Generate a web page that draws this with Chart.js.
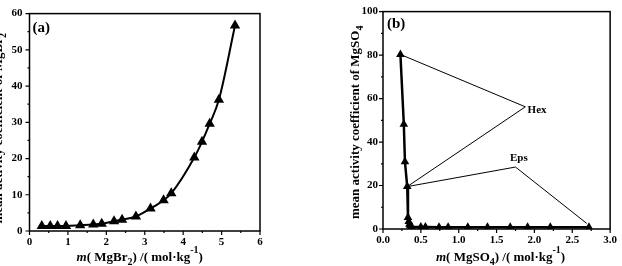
<!DOCTYPE html>
<html>
<head>
<meta charset="utf-8">
<script src="https://cdn.jsdelivr.net/npm/chart.js@4.4.0/dist/chart.umd.min.js"></script>
<style>
    html, body { margin: 0; padding: 0; background: #fff; overflow: hidden; }
    #chartA { position: absolute; left: 0; top: 0; }
    #chartB { position: absolute; left: 320px; top: 0; }
</style>
</head>
<body>
<canvas id="chartA" width="300" height="266"></canvas>
<canvas id="chartB" width="302" height="266"></canvas>
<script>
// (a) MgBr2 mean activity coefficient vs molality
const brMolality = [0.32, 0.54, 0.73, 0.95, 1.32, 1.66, 1.88, 2.2, 2.41, 2.77, 3.15, 3.49, 3.69, 4.29, 4.49, 4.69, 4.93, 5.35];
const brGamma = [1.4, 1.4, 1.4, 1.4, 1.6, 1.8, 2.0, 2.7, 3.1, 4.0, 6.2, 8.5, 10.4, 20.3, 24.6, 29.6, 36.2, 56.7];
const brXTicks = [0, 1, 2, 3, 4, 5, 6];
const brYTicks = [0, 10, 20, 30, 40, 50, 60];

// (b) MgSO4 mean activity coefficient vs molality
const so4Molality = [0.23, 0.275, 0.29, 0.32, 0.33, 0.34, 0.35, 0.36, 0.38, 0.5, 0.56, 0.74, 0.86, 1.12, 1.38, 1.68, 1.91, 2.21, 2.72];
const so4Gamma = [80.3, 48.2, 30.9, 19.5, 5.3, 3.5, 2.2, 1.5, 1.0, 0.9, 0.9, 0.8, 0.8, 0.8, 0.8, 0.8, 0.8, 0.8, 0.8];
const so4XTicks = [0, 0.5, 1.0, 1.5, 2.0, 2.5, 3.0];
const so4YTicks = [0, 20, 40, 60, 80, 100];

// leader lines for the phase labels
const hexGuideX = [0.257, 1.88, 0.32];
const hexGuideY = [79.9, 56.2, 19.5];
const epsGuideX = [0.32, 1.75, 2.69];
const epsGuideY = [19.5, 28.5, 2.6];
const phaseLabels = ["Hex", "Eps"];
const phaseLabelX = [1.91, 1.795];
const phaseLabelY = [54.6, 32.6];

const FONT = '"Liberation Serif", "Times New Roman", serif';

function toPoints(xs, ys) {
    return xs.map((x, i) => ({ x: x, y: ys[i] }));
}

function withMinors(majors) {
    const out = [];
    majors.forEach((v, i) => {
        out.push(v);
        if (i < majors.length - 1) out.push((v + majors[i + 1]) / 2);
    });
    return out;
}

function isMajor(list, v) {
    return list.some((m) => Math.abs(m - v) < 1e-9);
}

// draws a label made of parts (italic / subscript / superscript)
function drawRich(ctx, parts, cx, cy, angle, size) {
    const fontFor = (p) => (p.it ? "italic " : "") + "bold " + (p.sub || p.sup ? size - 3 : size) + "px " + FONT;
    ctx.save();
    ctx.translate(cx, cy);
    ctx.rotate(angle);
    let total = 0;
    parts.forEach((p) => {
        ctx.font = fontFor(p);
        total += ctx.measureText(p.t).width;
    });
    let pos = -total / 2;
    ctx.textBaseline = "alphabetic";
    ctx.textAlign = "left";
    ctx.fillStyle = "#000";
    parts.forEach((p) => {
        ctx.font = fontFor(p);
        const dy = p.sub ? size * 0.32 : p.sup ? -size * 0.6 : 0;
        ctx.fillText(p.t, pos, dy);
        pos += ctx.measureText(p.t).width;
    });
    ctx.restore();
}

const framePlugin = {
    id: "frame",
    afterDraw(chart, args, opts) {
        const { ctx, chartArea: a, scales } = chart;
        const x = scales.x, y = scales.y;
        ctx.save();
        ctx.strokeStyle = "#000";
        ctx.lineWidth = 1.5;
        ctx.strokeRect(a.left, a.top, a.right - a.left, a.bottom - a.top);

        ctx.lineWidth = 1.2;
        ctx.beginPath();
        x.ticks.forEach((t) => {
            const px = x.getPixelForValue(t.value);
            const len = isMajor(opts.xMajor, t.value) ? 4 : 2;
            ctx.moveTo(px, a.bottom);
            ctx.lineTo(px, a.bottom + len);
        });
        y.ticks.forEach((t) => {
            const py = y.getPixelForValue(t.value);
            const len = isMajor(opts.yMajor, t.value) ? 4 : 2;
            ctx.moveTo(a.left, py);
            ctx.lineTo(a.left - len, py);
        });
        ctx.stroke();

        // panel tag
        ctx.fillStyle = "#000";
        ctx.font = "bold 15px " + FONT;
        ctx.textAlign = "left";
        ctx.textBaseline = "middle";
        ctx.fillText(opts.tag, a.left + opts.tagDx, a.top + opts.tagDy);

        // phase labels
        if (opts.labels) {
            ctx.font = "bold 11px " + FONT;
            opts.labels.forEach((lab, i) => {
                ctx.textAlign = i === 0 ? "left" : "center";
                ctx.fillText(lab, x.getPixelForValue(opts.labelX[i]), y.getPixelForValue(opts.labelY[i]));
            });
        }

        // axis titles
        drawRich(ctx, opts.xTitle, (a.left + a.right) / 2 + opts.xTitleDx, opts.xTitleY, 0, 13);
        drawRich(ctx, opts.yTitle, opts.yTitleX, (a.top + a.bottom) / 2 + opts.yTitleDy, -Math.PI / 2, 13);
        ctx.restore();
    },
};

function axes(xMin, xMax, xMajor, xFmt, yMin, yMax, yMajor, yWidth, xHeight, yPad) {
    return {
        x: {
            type: "linear",
            min: xMin,
            max: xMax,
            afterBuildTicks: (s) => { s.ticks = withMinors(xMajor).map((v) => ({ value: v })); },
            afterFit: (s) => { s.height = xHeight; },
            grid: { display: true, drawOnChartArea: false, drawTicks: false },
            border: { display: false },
            ticks: {
                autoSkip: false,
                maxRotation: 0,
                padding: 5,
                color: "#000",
                font: { family: FONT, size: 11, weight: "bold" },
                callback: (v) => (isMajor(xMajor, v) ? xFmt(v) : ""),
            },
        },
        y: {
            type: "linear",
            min: yMin,
            max: yMax,
            afterBuildTicks: (s) => { s.ticks = withMinors(yMajor).map((v) => ({ value: v })); },
            afterFit: (s) => { s.width = yWidth; },
            grid: { display: true, drawOnChartArea: false, drawTicks: false },
            border: { display: false },
            ticks: {
                autoSkip: false,
                padding: yPad,
                color: "#000",
                font: { family: FONT, size: 11, weight: "bold" },
                callback: (v) => (isMajor(yMajor, v) ? String(v) : ""),
            },
        },
    };
}

function initializeBromideChart() {
    new Chart(document.getElementById("chartA"), {
        type: "scatter",
        data: {
            datasets: [
                {
                    data: toPoints(brMolality, brGamma),
                    showLine: true,
                    borderColor: "#000",
                    borderWidth: 2,
                    cubicInterpolationMode: "monotone",
                    pointStyle: "triangle",
                    pointRadius: 6,
                    pointBackgroundColor: "#000",
                    pointBorderColor: "#000",
                    pointBorderWidth: 0,
                },
            ],
        },
        options: {
            responsive: false,
            animation: false,
            layout: { padding: { left: 0, top: 10, right: 40, bottom: 0 } },
            plugins: {
                legend: { display: false },
                tooltip: { enabled: false },
                frame: {
                    xMajor: brXTicks,
                    yMajor: brYTicks,
                    tag: "(a)",
                    tagDx: 3,
                    tagDy: 15,
                    xTitle: [
                        { t: "m", it: true },
                        { t: "( MgBr" },
                        { t: "2", sub: true },
                        { t: ") /( mol·kg" },
                        { t: "-1", sup: true },
                        { t: ")" },
                    ],
                    xTitleDx: -5,
                    xTitleY: 261,
                    yTitle: [{ t: "mean activity coefficient of MgBr" }, { t: "2", sub: true }],
                    yTitleX: 2,
                    yTitleDy: 6,
                },
            },
            scales: axes(0, 6, brXTicks, (v) => String(v), 0, 60, brYTicks, 29.5, 35, 7),
        },
        plugins: [framePlugin],
    });
}

function initializeSulfateChart() {
    new Chart(document.getElementById("chartB"), {
        type: "scatter",
        data: {
            datasets: [
                {
                    data: toPoints(so4Molality, so4Gamma),
                    showLine: true,
                    borderColor: "#000",
                    borderWidth: 2.5,
                    tension: 0,
                    pointStyle: "triangle",
                    pointRadius: 5,
                    pointBackgroundColor: "#000",
                    pointBorderColor: "#000",
                    pointBorderWidth: 0,
                },
                {
                    data: toPoints(hexGuideX, hexGuideY),
                    showLine: true,
                    borderColor: "#000",
                    borderWidth: 1,
                    pointRadius: 0,
                },
                {
                    data: toPoints(epsGuideX, epsGuideY),
                    showLine: true,
                    borderColor: "#000",
                    borderWidth: 1,
                    pointRadius: 0,
                },
            ],
        },
        options: {
            responsive: false,
            animation: false,
            layout: { padding: { left: 0, top: 7, right: 10, bottom: 0 } },
            plugins: {
                legend: { display: false },
                tooltip: { enabled: false },
                frame: {
                    xMajor: so4XTicks,
                    yMajor: so4YTicks,
                    tag: "(b)",
                    tagDx: 4,
                    tagDy: 13,
                    labels: phaseLabels,
                    labelX: phaseLabelX,
                    labelY: phaseLabelY,
                    xTitle: [
                        { t: "m", it: true },
                        { t: "( MgSO" },
                        { t: "4", sub: true },
                        { t: ") /( mol·kg" },
                        { t: "-1", sup: true },
                        { t: ")" },
                    ],
                    xTitleDx: 4,
                    xTitleY: 261,
                    yTitle: [{ t: "mean activity coefficient of MgSO" }, { t: "4", sub: true }],
                    yTitleX: 39,
                    yTitleDy: 2,
                },
            },
            scales: axes(0, 3, so4XTicks, (v) => v.toFixed(1), 0, 100, so4YTicks, 63, 37, 5),
        },
        plugins: [framePlugin],
    });
}

document.addEventListener("DOMContentLoaded", function () {
    if (typeof Chart === "undefined") {
        console.error("Chart.js is not loaded");
        return;
    }
    initializeBromideChart();
    initializeSulfateChart();
});
</script>
</body>
</html>
